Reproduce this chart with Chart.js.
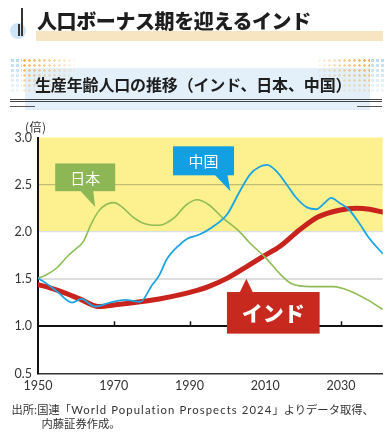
<!DOCTYPE html>
<html><head><meta charset="utf-8">
<script src="https://cdn.jsdelivr.net/npm/chart.js@4.4.1/dist/chart.umd.min.js"></script>
<style>
html,body{margin:0;padding:0;background:#fff;width:391px;height:434px;overflow:hidden;}
body{position:relative;font-family:"Noto Sans CJK JP","Noto Sans",sans-serif;color:#222;}
#c{position:absolute;left:0;top:0;}
.abs{position:absolute;white-space:nowrap;}
.dotsL{background-image:radial-gradient(circle,#f0a23a 1.1px,transparent 1.5px);background-size:5px 5px;
 -webkit-mask-image:linear-gradient(to right,rgba(0,0,0,1),rgba(0,0,0,0.1));mask-image:linear-gradient(to right,rgba(0,0,0,1),rgba(0,0,0,0.1));}
.dotsR{background-image:radial-gradient(circle,#f0a23a 1.1px,transparent 1.5px);background-size:5px 5px;
 -webkit-mask-image:linear-gradient(to left,rgba(0,0,0,1),rgba(0,0,0,0.1));mask-image:linear-gradient(to left,rgba(0,0,0,1),rgba(0,0,0,0.1));}
.dotsB{background-image:radial-gradient(circle,#b9daf3 1.6px,transparent 2px);background-size:5px 5px;}
.fadeDown{-webkit-mask-image:linear-gradient(to bottom,rgba(0,0,0,1),rgba(0,0,0,0.15));mask-image:linear-gradient(to bottom,rgba(0,0,0,1),rgba(0,0,0,0.15));}
</style></head><body>
<canvas id="c" width="391" height="434"></canvas>

<div class="abs" style="left:10px;top:23px;width:16px;height:16px;border-radius:50%;background:#cfe5f6;"></div>
<div class="abs" style="left:21px;top:8px;width:1.6px;height:28px;background:#333"></div>
<div class="abs" style="left:18.4px;top:24px;width:1.6px;height:12px;background:#333"></div>
<div class="abs" style="left:36px;top:31px;width:347px;height:10px;background:#f7e4c1"></div>
<div class="abs" style="left:37px;top:8.5px;font-size:20px;font-weight:900;line-height:24px;letter-spacing:-0.4px;color:#1e1e1e">人口ボーナス期を迎えるインド</div>

<div class="abs" style="left:25px;top:68px;width:345px;height:42px;background:#e3eff9"></div>
<div class="abs fadeDown" style="left:10px;top:58px;width:65px;height:36px;"><div class="dotsB" style="position:absolute;left:0;top:0;width:12px;height:36px;"></div><div class="dotsL" style="position:absolute;left:12px;top:0;width:53px;height:36px;"></div></div>
<div class="abs fadeDown" style="left:317px;top:58px;width:67px;height:36px;"><div class="dotsR" style="position:absolute;left:0;top:0;width:53px;height:36px;"></div><div class="dotsB" style="position:absolute;left:53px;top:0;width:14px;height:36px;"></div></div>
<div class="abs" style="left:35px;top:74px;font-size:16px;font-weight:700;line-height:20px;letter-spacing:-0.15px;color:#1e1e1e">生産年齢人口の推移（インド、日本、中国）</div>
<div class="abs" style="left:10px;top:98.5px;width:372px;height:1px;background:#444"></div>
<div class="abs" style="left:10px;top:100.5px;width:372px;height:1px;background:#444"></div>
<div class="abs" style="left:10px;top:105.5px;width:25px;height:1px;background:#555"></div>
<div class="abs" style="left:357px;top:105.5px;width:25px;height:1px;background:#555"></div>

<div class="abs" style="left:25px;top:119px;font-size:12px;line-height:15px;color:#333;letter-spacing:0.5px">(倍)</div>

<div class="abs" style="left:11.5px;top:402px;font-size:11.3px;line-height:15px;color:#333">出所:国連「<span style="font-family:Lato,sans-serif;letter-spacing:1.1px">World Population Prospects 2024</span>」よりデータ取得、</div>
<div class="abs" style="left:41.5px;top:416px;font-size:11.3px;line-height:15px;color:#333">内藤証券作成。</div>

<script>
// ---- data ----
const xTicks = [1950, 1970, 1990, 2010, 2030];
const yTicks = [0.5, 1.0, 1.5, 2.0, 2.5, 3.0];

const japanYears  = [1950,1952,1955,1958,1960,1962,1964,1966,1968,1970,1972,1975,1978,1982,1986,1989,1992,1995,1999,2003,2006,2010,2014,2017,2022,2028,2032,2037,2041];
const japanValues = [1.51,1.54,1.62,1.75,1.82,1.90,2.08,2.22,2.29,2.31,2.27,2.16,2.09,2.07,2.15,2.28,2.34,2.29,2.14,2.01,1.88,1.73,1.55,1.45,1.42,1.42,1.38,1.28,1.18];

const chinaYears  = [1950,1952,1955,1959,1961.5,1962.5,1965,1969,1973,1977,1980,1982,1984,1987,1989.5,1992.5,1996,2000,2003,2006,2008.5,2010.5,2013,2015.5,2018,2021,2023.5,2025.5,2027.4,2029.5,2032,2035,2037.5,2041];
const chinaValues = [1.51,1.46,1.37,1.25,1.29,1.27,1.21,1.25,1.28,1.26,1.43,1.54,1.71,1.85,1.93,1.97,2.05,2.19,2.41,2.61,2.69,2.71,2.64,2.51,2.37,2.26,2.24,2.30,2.36,2.31,2.24,2.08,1.93,1.77];

const indiaYears  = [1950,1953,1956,1961,1966,1971,1977,1982,1987,1992,1995,2000,2005,2009,2014,2019,2024,2029.5,2034,2037.5,2041];
const indiaValues = [1.44,1.41,1.37,1.29,1.21,1.23,1.26,1.29,1.33,1.38,1.42,1.51,1.63,1.73,1.85,2.02,2.16,2.23,2.25,2.24,2.21];

const seriesNames = ['中国', '日本', 'インド'];

const pts = (xs, ys) => xs.map((v, i) => ({x: v, y: ys[i]}));

// callout boxes (anchor tip in data units, box in px offsets from tip)
const callouts = [
  {text:'日本', color:'#8db654', tipYear:1965.1, tipValue:2.265, box:[-40,-43.4,20,-15.7], base:[-15,-2], font:'400 15px "Noto Sans CJK JP"'},
  {text:'中国', color:'#12a0e2', tipYear:2000.8, tipValue:2.43, box:[-57.4,-45,3.6,-16], base:[-15.7,-3], font:'400 15px "Noto Sans CJK JP"'},
  {text:'インド', color:'#c8291f', tipYear:2005, tipValue:1.505, box:[-19.4,13.4,73.3,55], base:[-6.7,6.6], font:'900 21px "Noto Sans CJK JP"'}
];

const bandPlugin = {
  id:'band',
  beforeDraw(chart){
    const {ctx, chartArea:a, scales:{y}} = chart;
    const t = y.getPixelForValue(3.0), b = y.getPixelForValue(2.0);
    ctx.save(); ctx.fillStyle = '#fdf18f';
    ctx.fillRect(a.left, t, a.right - a.left, b - t);
    ctx.restore();
  },
  beforeDatasetsDraw(chart){
    const {ctx, scales:{x,y}} = chart;
    const y1 = y.getPixelForValue(1.0);
    ctx.save(); ctx.strokeStyle = '#111'; ctx.lineWidth = 1.5;
    xTicks.slice(1).forEach(v => {
      const px = Math.round(x.getPixelForValue(v)) + 0.5;
      ctx.beginPath(); ctx.moveTo(px, y1); ctx.lineTo(px, y1 - 5); ctx.stroke();
    });
    ctx.restore();
  },
  afterDatasetsDraw(chart){
    const {ctx, scales:{x,y}} = chart;
    callouts.forEach(c => {
      const tx = x.getPixelForValue(c.tipYear), ty = y.getPixelForValue(c.tipValue);
      const [l,t,r,b] = c.box;
      ctx.save();
      ctx.fillStyle = c.color;
      ctx.fillRect(tx + l, ty + t, r - l, b - t);
      const by = (t < 0) ? ty + b : ty + t;
      ctx.beginPath();
      ctx.moveTo(tx + c.base[0], by + (t < 0 ? -0.5 : 0.5));
      ctx.lineTo(tx + c.base[1], by + (t < 0 ? -0.5 : 0.5));
      ctx.lineTo(tx, ty);
      ctx.closePath(); ctx.fill();
      ctx.fillStyle = '#fff'; ctx.font = c.font;
      ctx.textAlign = 'center'; ctx.textBaseline = 'middle';
      ctx.fillText(c.text, tx + (l + r) / 2, ty + (t + b) / 2 + 0.5);
      ctx.restore();
    });
  }
};

new Chart(document.getElementById('c'), {
  type:'line',
  data:{
    datasets:[
      {label:seriesNames[0], data:pts(chinaYears, chinaValues), borderColor:'#1da4e4', borderWidth:1.8},
      {label:seriesNames[1], data:pts(japanYears, japanValues), borderColor:'#8fbc55', borderWidth:1.6},
      {label:seriesNames[2], data:pts(indiaYears, indiaValues), borderColor:'#c8231c', borderWidth:5}
    ]
  },
  options:{
    responsive:false, animation:false, devicePixelRatio:1,
    layout:{padding:{left:0, top:137.5, right:8.3, bottom:0}},
    elements:{point:{radius:0}, line:{cubicInterpolationMode:'monotone', borderCapStyle:'round', borderJoinStyle:'round'}},
    plugins:{legend:{display:false}, tooltip:{enabled:false}},
    scales:{
      x:{type:'linear', min:1950, max:2041,
        afterFit(s){ s.height = 60.5; },
        afterBuildTicks(s){ s.ticks = xTicks.map(v => ({value:v})); },
        grid:{display:false, drawTicks:false},
        border:{display:true, color:'#333', width:1.5},
        ticks:{padding:5, color:'#333', font:{family:'Lato', size:12.5}, maxRotation:0, autoSkip:false, callback:v => String(v)}
      },
      y:{min:0.5, max:3.0,
        afterFit(s){ s.width = 38; },
        afterBuildTicks(s){ s.ticks = yTicks.map(v => ({value:v})); },
        grid:{drawTicks:false,
          color:c => { const v = c.tick && c.tick.value;
            if (v === 1.0) return '#111';
            if (v === 2.5) return 'rgba(150,140,100,0.55)';
            if (v === 2.0) return '#d9dfe6';
            if (v === 1.5) return '#dedede';
            return 'rgba(0,0,0,0)'; },
          lineWidth:c => { const v = c.tick && c.tick.value; return v === 1.0 ? 2 : (v === 1.5 ? 2 : 1.2); }
        },
        border:{display:true, color:'#111', width:2},
        ticks:{padding:6, color:'#333', font:{family:'Lato', size:12.5}, callback:v => v.toFixed(1)}
      }
    }
  },
  plugins:[bandPlugin]
});
</script>
</body></html>
